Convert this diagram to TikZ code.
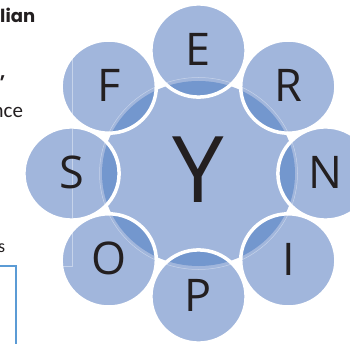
\documentclass[tikz,border=0pt]{standalone}
\usepackage{fontspec}
\usetikzlibrary{calc}
\setmainfont{Open Sans}
\newfontfamily\titlefont{Poppins}
\newfontfamily\bodyfont{Carlito}
\definecolor{lightfill}{RGB}{161,182,220}
\definecolor{darkfill}{RGB}{115,151,206}
\definecolor{lettercol}{RGB}{35,31,32}
\definecolor{frameblue}{RGB}{91,155,213}
\tikzset{
  letter/.style={inner sep=0pt, text=lettercol, font=\fontsize{45}{45}\selectfont},
  bigletter/.style={inner sep=0pt, text=lettercol, font=\fontsize{92}{92}\selectfont},
  outline/.style={draw=white, line width=3.5pt},
  faint/.style={draw=white, draw opacity=0.4, line width=0.5pt},
  sidetext/.style={inner sep=0pt, anchor=base west, text=lettercol}
}
\begin{document}
\begin{tikzpicture}[x=1pt,y=-1pt]
\useasboundingbox (0,0) rectangle (350,344);
\clip (0,0) rectangle (350,344);
\coordinate (C) at (198.5,173.5);
\coordinate (E) at (198.5,50.5);
\coordinate (R) at (288.3,86.6);
\coordinate (N) at (325.5,173.5);
\coordinate (I) at (288.3,260.4);
\coordinate (P) at (198.5,296.5);
\coordinate (O) at (108.7,260.4);
\coordinate (S) at (71.5,173.5);
\coordinate (F) at (108.7,86.6);
% central circle
\fill[lightfill] (C) ellipse [x radius=96.5, y radius=92.5];
% outer circle fills, dark where they overlap the centre
\foreach \p in {E,R,N,I,P,O,S,F}{
  \fill[lightfill] (\p) ellipse [x radius=47.6, y radius=46.6];
  \begin{scope}
    \clip (C) ellipse [x radius=96.5, y radius=92.5];
    \fill[darkfill] (\p) ellipse [x radius=47.6, y radius=46.6];
  \end{scope}
}
\foreach \p in {E,R,N,I,P,O,S,F}{
  \draw[outline] (\p) ellipse [x radius=47.6, y radius=46.6];
}
% faint ring and faint guide frame
\draw[faint] (C) ellipse [x radius=99, y radius=96];
\coordinate (g1) at (72,-5);
\coordinate (g2) at (72,266);
\coordinate (g3) at (-5,266);
\draw[faint] (g1) -- (g2) -- (g3);
% letters
\node[letter] (tE) at ($(E)+(0,-1.5)$) {E};
\node[letter] (tR) at ($(R)+(0,-1.5)$) {R};
\node[letter] (tN) at ($(N)+(0,-1.5)$) {N};
\node[letter] (tI) at ($(I)+(0,-1)$) {I};
\node[letter] (tP) at ($(P)+(0,-1)$) {P};
\node[letter] (tO) at ($(O)+(0,-1.5)$) {O};
\node[letter] (tS) at ($(S)+(0,-1.5)$) {S};
\node[letter] (tF) at ($(F)+(0,-1.5)$) {F};
\node[bigletter] (tY) at (198,170) {Y};
% side texts
\node[sidetext, font=\titlefont\bfseries\fontsize{18}{18}\selectfont] (t1) at (0,23) {lian};
\node[sidetext, font=\titlefont\bfseries\fontsize{18}{18}\selectfont] (t2) at (0,79) {,};
\node[sidetext, font=\bodyfont\fontsize{21}{21}\selectfont] (t3) at (-7.5,118) {nce};
\node[sidetext, font=\bodyfont\fontsize{18}{18}\selectfont] (t4) at (-2,252) {s};
% blue frame
\coordinate (b1) at (-10,266);
\coordinate (b2) at (16,266);
\coordinate (b3) at (16,350);
\draw[frameblue, line width=1.3pt] (b1) -- (b2) -- (b3);
\end{tikzpicture}
\end{document}
